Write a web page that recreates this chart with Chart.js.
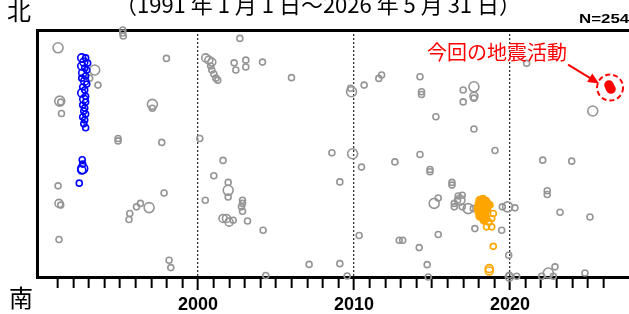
<!DOCTYPE html>
<html>
<head>
<meta charset="utf-8">
<script src="https://cdn.jsdelivr.net/npm/chart.js@4.4.1/dist/chart.umd.min.js"></script>
<style>
  html, body { margin: 0; padding: 0; background: #fff; overflow: hidden; }
  #wrap { width: 629px; height: 314px; overflow: hidden; position: relative; }
</style>
</head>
<body>
<div id="wrap"><canvas id="quakeChart" width="660" height="320"></canvas></div>
<script>
// decimal year / relative N-S position (0 = south edge, 100 = north edge) / marker radius
const grayYear = [
  1991.02, 1995.17, 1995.17, 1995.20, 1997.97, 1993.37, 1993.05, 1993.58, 1991.13, 1991.19,
  1991.24, 1997.07, 1997.07, 1994.87, 1994.87, 1997.67, 1991.02, 1991.08, 1991.19, 1991.08,
  1995.62, 1995.57, 1996.05, 1996.30, 1996.86, 1997.82, 1998.14, 1998.25, 2000.11, 2001.60,
  2001.01, 2001.93, 2001.93, 2001.93, 2000.46, 2002.85, 2002.85, 2002.78, 2002.85, 2001.60,
  2001.82, 2001.99, 2002.25, 2003.17, 2004.17, 2004.34, 2002.68, 2000.49, 2000.69, 2000.88,
  2000.81, 2000.88, 2001.01, 2001.14, 2001.26, 2002.31, 2002.42, 2003.06, 2003.06, 2004.13,
  2005.99, 2009.78, 2009.84, 2010.65, 2011.59, 2011.77, 2008.58, 2009.91, 2010.48, 2012.62,
  2009.09, 2010.33, 2012.90, 2007.12, 2009.09, 2009.56, 2021.07, 2014.23, 2014.33, 2014.33,
  2017.00, 2017.69, 2017.69, 2017.69, 2017.00, 2015.25, 2017.69, 2025.31, 2019.04, 2014.23,
  2014.87, 2014.87, 2022.10, 2023.96, 2016.28, 2016.28, 2022.39, 2022.39, 2015.40, 2015.14,
  2016.68, 2016.94, 2016.64, 2016.43, 2016.43, 2017.32, 2016.94, 2016.79, 2017.65, 2017.75,
  2019.47, 2015.40, 2019.51, 2019.85, 2020.32, 2023.21, 2025.13, 2013.12, 2014.18, 2019.92,
  2014.69, 2014.76, 2019.96, 2019.96, 2020.43, 2022.03, 2022.46, 2022.89, 2022.78, 2024.81
];
const grayPos = [
  92.8, 100.0, 98.8, 97.6, 88.5, 83.8, 80.5, 77.7, 71.2, 70.8,
  66.2, 69.9, 68.3, 56.1, 55.1, 54.5, 36.9, 29.8, 29.1, 15.2,
  25.7, 23.3, 28.4, 29.8, 28.1, 34.0, 6.8, 3.8, 56.1, 47.2,
  41.0, 38.3, 35.1, 32.4, 31.1, 31.1, 29.8, 28.4, 26.6, 23.7,
  23.7, 22.2, 23.0, 22.7, 18.9, 0.6, 96.6, 88.7, 87.8, 87.0,
  85.4, 83.8, 82.2, 80.5, 79.7, 86.7, 83.8, 87.8, 85.0, 87.0,
  80.7, 76.4, 75.0, 77.7, 80.4, 81.8, 50.3, 49.9, 44.5, 46.6,
  38.5, 16.8, 14.9, 5.1, 5.4, 0.4, 86.5, 81.1, 75.0, 73.9,
  75.7, 77.0, 73.2, 72.4, 70.9, 64.9, 59.9, 67.2, 51.2, 49.6,
  43.5, 42.6, 47.3, 46.9, 38.3, 37.2, 34.9, 33.4, 32.0, 29.8,
  32.8, 33.1, 31.1, 29.8, 28.4, 27.7, 28.4, 31.1, 27.7, 19.6,
  18.9, 17.2, 28.4, 28.4, 28.0, 26.2, 24.3, 14.9, 11.9, 8.8,
  5.0, 0.0, 0.0, 0.7, 0.3, 0.3, 1.6, 4.1, 0.3, 1.6
];
const graySize = [
  5, 3, 3, 3, 3, 5, 3, 3, 5, 3,
  3, 5, 3, 3, 3, 3, 3, 4, 3, 3,
  3, 3, 3, 3, 5, 3, 3, 3, 3, 3,
  3, 3, 5, 3, 3, 3, 3, 3, 3, 4,
  4, 4, 3, 3, 3, 3, 3, 4, 4, 4,
  3, 3, 3, 3, 3, 3, 3, 3, 3, 3,
  3, 3, 5, 3, 3, 3, 3, 5, 3, 3,
  3, 3, 3, 3, 3, 3, 3, 3, 3, 3,
  3, 5, 4, 3, 3, 3, 3, 5, 3, 3,
  3, 3, 3, 3, 3, 3, 3, 3, 3, 5,
  3, 3, 3, 3, 3, 5, 3, 5, 3, 3,
  3, 3, 3, 5, 3, 3, 3, 3, 3, 3,
  3, 3, 4, 3, 3, 3, 5, 3, 3, 3
];

// 1992-1993 swarm (blue)
const blueYear = [
  1992.54, 1992.79, 1992.67, 1992.92, 1992.54, 1992.73, 1992.86, 1992.60, 1992.79, 1992.54,
  1992.73, 1992.86, 1992.60, 1992.73, 1992.54, 1992.79, 1992.67, 1992.79, 1992.60, 1992.73,
  1992.67, 1992.79, 1992.60, 1992.73, 1992.67, 1992.79, 1992.57, 1992.60, 1992.60, 1992.54, 1992.38
];
const bluePos = [
  88.7, 88.7, 87.0, 86.6, 85.4, 84.6, 83.8, 82.6, 81.4, 80.5,
  79.3, 78.1, 76.9, 75.7, 74.5, 73.2, 72.0, 70.8, 69.6, 68.4,
  67.2, 66.0, 64.8, 63.6, 62.0, 60.4, 47.5, 45.7, 43.9, 43.3, 38.0
];
const blueSize = [
  4, 3, 4, 3, 4, 3, 3, 4, 3, 3,
  4, 3, 3, 3, 4, 3, 4, 3, 3, 3,
  3, 3, 3, 3, 3, 3, 3, 3, 5, 4, 3
];

// 2018 swarm (orange): dense core + scattered events
const swarmYear = [2018.07, 2018.27, 2018.46, 2018.01, 2018.20, 2018.40, 2018.59, 2017.95, 2018.14,
                   2018.33, 2018.52, 2018.01, 2018.20, 2018.40, 2018.07, 2018.27, 2018.46, 2018.33];
const swarmPos  = [31.1, 31.5, 30.7, 29.5, 29.1, 28.7, 29.5, 27.8, 27.4,
                   27.0, 27.4, 26.2, 25.8, 25.4, 24.6, 24.2, 23.8, 23.0];
const orangeYear = [2018.72, 2018.93, 2018.83, 2018.65, 2018.50, 2018.83, 2018.93, 2018.67, 2018.67];
const orangePos  = [29.1, 25.7, 23.7, 22.2, 20.3, 20.3, 12.4, 3.4, 2.4];
const orangeSize = [3, 3, 3, 3, 3, 3, 3, 4, 4];

// current activity (red)
const redYear = [2026.35, 2026.42, 2026.48];
const redPos  = [77.7, 76.7, 76.1];

const tickYears  = [1991, 1992, 1993, 1994, 1995, 1996, 1997, 1998, 1999, 2000, 2001, 2002,
                    2003, 2004, 2005, 2006, 2007, 2008, 2009, 2010, 2011, 2012, 2013, 2014,
                    2015, 2016, 2017, 2018, 2019, 2020, 2021, 2022, 2023, 2024, 2025, 2026];
const majorYears = [2000, 2010, 2020];

const titleText  = "（1991 年 1 月 1 日～2026 年 5 月 31 日）";
const countText  = "N=254";
const noteText   = "今回の地震活動";

const pts = (xs, ys) => xs.map((v, i) => ({ x: v, y: ys[i] }));
const isMajor = v => majorYears.includes(Math.round(v));

const overlay = {
    id: "overlay",
    afterDraw(chart) {
        const { ctx, scales: { x, y } } = chart;
        ctx.save();
        ctx.fillStyle = "#000";
        ctx.textBaseline = "middle";
        ctx.textAlign = "center";
        ctx.font = '22px "Liberation Sans Narrow", "Noto Sans CJK JP", sans-serif';
        ctx.fillText(titleText, 318, 5);
        ctx.font = '24px "Noto Sans CJK JP"';
        ctx.fillText("北", 19, 11);
        ctx.fillText("南", 21, 298);

        ctx.save();
        ctx.textAlign = "left";
        ctx.font = 'bold 13px "Liberation Sans", sans-serif';
        ctx.translate(579, 19);
        ctx.scale(1.3, 1);
        ctx.fillText(countText, 0, 0);
        ctx.restore();

        // note + arrow + dashed ring round the current activity
        const cx = x.getPixelForValue(redYear[1]);
        const cy = y.getPixelForValue(redPos[1]);
        ctx.fillStyle = "#ff0000";
        ctx.strokeStyle = "#ff0000";
        ctx.textAlign = "center";
        ctx.font = '20px "Noto Sans CJK JP"';
        ctx.fillText(noteText, cx - 113, cy - 35);

        const x0 = cx - 42, y0 = cy - 23, x1 = cx - 11, y1 = cy - 4;
        const ang = Math.atan2(y1 - y0, x1 - x0);
        ctx.lineWidth = 2;
        ctx.beginPath();
        ctx.moveTo(x0, y0);
        ctx.lineTo(x1 - 8 * Math.cos(ang), y1 - 8 * Math.sin(ang));
        ctx.stroke();
        ctx.beginPath();
        ctx.moveTo(x1, y1);
        ctx.lineTo(x1 - 11 * Math.cos(ang) + 5 * Math.sin(ang), y1 - 11 * Math.sin(ang) - 5 * Math.cos(ang));
        ctx.lineTo(x1 - 11 * Math.cos(ang) - 5 * Math.sin(ang), y1 - 11 * Math.sin(ang) + 5 * Math.cos(ang));
        ctx.closePath();
        ctx.fill();

        ctx.setLineDash([5, 3]);
        ctx.beginPath();
        ctx.arc(cx, cy, 13, 0, Math.PI * 2);
        ctx.stroke();
        ctx.restore();
    }
};

const ring = (color, fill) => ({
    pointStyle: "circle",
    borderColor: color,
    backgroundColor: fill || "rgba(0,0,0,0)",
    pointBorderWidth: 1.6,
    showLine: false,
    clip: false,
});

new Chart(document.getElementById("quakeChart"), {
    type: "scatter",
    data: {
        datasets: [
            { ...ring("#ff0000", "#ff0000"), data: pts(redYear, redPos), pointRadius: 4 },
            { ...ring("#ffa500", "#ffa500"), data: pts(swarmYear, swarmPos), pointRadius: 3.5, pointBorderWidth: 2 },
            { ...ring("#ffa500"), data: pts(orangeYear, orangePos), pointRadius: orangeSize },
            { ...ring("#0000ff"), data: pts(blueYear, bluePos), pointRadius: blueSize },
            { ...ring("#959595"), data: pts(grayYear, grayPos), pointRadius: graySize },
        ],
    },
    options: {
        responsive: false,
        animation: false,
        events: [],
        layout: { padding: { left: 37, top: 30, right: 15, bottom: 0 } },
        plugins: { legend: { display: false }, tooltip: { enabled: false } },
        scales: {
            x: {
                type: "linear",
                position: "bottom",
                min: 1989.67,
                max: 2028.66,
                afterBuildTicks: axis => { axis.ticks = tickYears.map(v => ({ value: v })); },
                ticks: {
                    autoSkip: false,
                    maxRotation: 0,
                    padding: 6,
                    color: "#000",
                    font: { family: "Liberation Sans", size: 18, weight: "bold", lineHeight: 1.0 },
                    callback: v => (isMajor(v) ? String(Math.round(v)) : ""),
                },
                grid: {
                    drawOnChartArea: true,
                    drawTicks: true,
                    tickLength: 13,
                    tickWidth: 2,
                    tickColor: "#000",
                    lineWidth: 1.3,
                    color: c => (c.tick && isMajor(c.tick.value) ? "#333" : "rgba(0,0,0,0)"),
                    tickBorderDash: c => (c.tick && isMajor(c.tick.value) ? [] : [9, 40]),
                },
                border: { display: true, width: 3, color: "#000", dash: [2, 2] },
            },
            xTop: {
                type: "linear",
                position: "top",
                min: 1989.67,
                max: 2028.66,
                ticks: { display: false },
                grid: { display: false, drawTicks: false },
                border: { display: true, width: 3, color: "#000" },
            },
            y: {
                type: "linear",
                min: 0,
                max: 100,
                ticks: { display: false },
                grid: { display: false, drawTicks: false },
                border: { display: true, width: 3, color: "#000" },
            },
        },
    },
    plugins: [overlay],
});
</script>
</body>
</html>
